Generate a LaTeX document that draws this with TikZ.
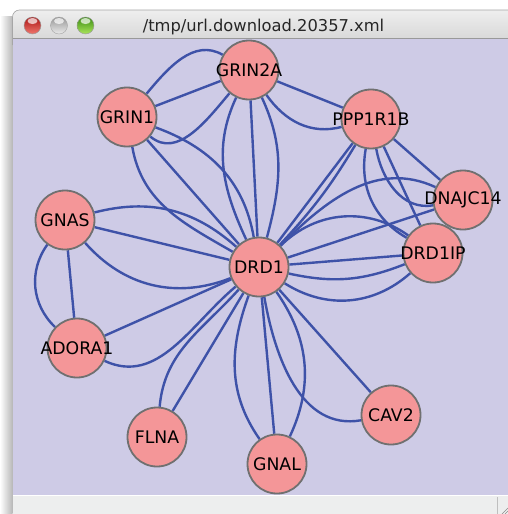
\documentclass[tikz,border=0pt]{standalone}
\usepackage{fontspec}
\setmainfont{DejaVu Sans}
\pgfdeclarelayer{bg}
\pgfdeclarelayer{edges}
\pgfsetlayers{bg,edges,main}
\definecolor{canvasc}{RGB}{206,203,230}
\definecolor{nodefillc}{RGB}{244,150,152}
\definecolor{nodeborderc}{RGB}{112,112,112}
\definecolor{edgec}{RGB}{62,82,168}
\definecolor{statusc}{RGB}{237,238,238}
\definecolor{titletop}{RGB}{238,238,238}
\definecolor{titlebot}{RGB}{212,212,212}
\definecolor{redtop}{RGB}{170,20,20}
\definecolor{redbot}{RGB}{240,120,110}
\definecolor{greytop}{RGB}{150,150,150}
\definecolor{greybot}{RGB}{235,235,235}
\definecolor{greentop}{RGB}{60,140,20}
\definecolor{greenbot}{RGB}{170,230,90}
\newcommand\zw[1]{\makebox[0pt]{#1}}
\tikzset{
  gene/.style={circle, minimum size=59pt, inner sep=0pt, fill=nodefillc,
    draw=nodeborderc, line width=1.8pt, text=black,
    font=\fontsize{17.3}{20}\selectfont},
  edge/.style={draw=edgec, line width=2.4pt}
}
\begin{document}
\begin{tikzpicture}[x=1pt,y=1pt]
\useasboundingbox (0,0) rectangle (508,-514);
\begin{pgfonlayer}{bg}
  \fill[white] (0,0) rectangle (508,-514);
  \shade[left color=white, right color=black!28] (0,-16) rectangle (12.5,-514);
  \shade[top color=titletop, bottom color=titlebot, rounded corners=7pt, draw=black!35, line width=0.6pt]
     (12.5,-45) -- (12.5,-10) -- (530,-10) -- (530,-45);
  \fill[canvasc] (13,-38) rectangle (508,-495);
  \draw[black!40, line width=0.6pt] (13,-38) -- (508,-38);
  \fill[statusc] (13,-495) rectangle (508,-514);
  \draw[white, line width=0.8pt] (13,-495.5) -- (508,-495.5);
  \draw[black!25, line width=0.6pt] (497,-497) -- (497,-514);
  \draw[black!45, line width=0.6pt] (502,-514) -- (508,-508) (505,-514) -- (508,-511);
  \shade[top color=redtop, bottom color=redbot, draw=black!40, line width=0.4pt] (32.5,-25.5) circle (8.5);
  \shade[top color=greytop, bottom color=greybot, draw=black!35, line width=0.4pt] (59,-25.5) circle (8.5);
  \shade[top color=greentop, bottom color=greenbot, draw=black!40, line width=0.4pt] (85.5,-25.5) circle (8.5);
  \fill[white, opacity=0.7] (32.5,-21) ellipse (5 and 3);
  \fill[white, opacity=0.7] (59,-21) ellipse (5 and 3);
  \fill[white, opacity=0.7] (85.5,-21) ellipse (5 and 3);
  \node[anchor=base, text=black!85, font=\fontsize{16.3}{18}\selectfont] (title) at (263.5,-31.5) {/tmp/url.download.20357.xml};
\end{pgfonlayer}

\node[gene] (GRIN2A) at (249,-70) {\zw{GRIN2A}};
\node[gene] (GRIN1) at (127,-117) {\zw{GRIN1}};
\node[gene] (PPP1R1B) at (371,-119) {\zw{PPP1R1B}};
\node[gene] (DNAJC14) at (463,-200) {\zw{DNAJC14}};
\node[gene] (DRD1IP) at (433,-253) {\zw{DRD1IP}};
\node[gene] (GNAS) at (65,-220) {\zw{GNAS}};
\node[gene] (DRD1) at (259,-267) {\zw{DRD1}};
\node[gene] (ADORA1) at (77,-348) {\zw{ADORA1}};
\node[gene] (FLNA) at (157,-437) {\zw{FLNA}};
\node[gene] (GNAL) at (277,-464) {\zw{GNAL}};
\node[gene] (CAV2) at (391,-415) {\zw{CAV2}};

\begin{pgfonlayer}{edges}
\draw[edge] (GRIN1) -- (GRIN2A);
\draw[edge] (GRIN1) to[out=50,in=150] (GRIN2A);
\draw[edge] (GRIN1) to[out=-40,in=230] (GRIN2A);
\draw[edge] (GRIN1) -- (DRD1);
\draw[edge] (GRIN1) to[out=-20,in=100] (DRD1);
\draw[edge] (GRIN1) to[out=-80,in=150] (DRD1);
\draw[edge] (GRIN2A) -- (DRD1);
\draw[edge] (GRIN2A) to[out=-115,in=115] (DRD1);
\draw[edge] (GRIN2A) to[out=-65,in=75] (DRD1);
\draw[edge] (GRIN2A) -- (PPP1R1B);
\draw[edge] (GRIN2A) to[out=-55,in=195] (PPP1R1B);
\draw[edge] (PPP1R1B) -- (DRD1);
\draw[edge] (PPP1R1B) to[bend left=6] (DRD1);
\draw[edge] (PPP1R1B) -- (DNAJC14);
\draw[edge] (PPP1R1B) to[out=-80,in=190] (DNAJC14);
\draw[edge] (PPP1R1B) -- (DRD1IP);
\draw[edge] (PPP1R1B) to[out=-100,in=150] (DRD1IP);
\draw[edge] (DNAJC14) -- (DRD1IP);
\draw[edge] (DRD1) to[out=45,in=155] (DNAJC14);
\draw[edge] (DRD1) -- (DNAJC14);
\draw[edge] (DRD1) -- (DRD1IP);
\draw[edge] (DRD1) to[bend left=40] (DRD1IP);
\draw[edge] (DRD1) to[bend right=17] (DRD1IP);
\draw[edge] (DRD1) to[bend right=37] (DRD1IP);
\draw[edge] (GNAS) -- (DRD1);
\draw[edge] (GNAS) to[bend left=28] (DRD1);
\draw[edge] (GNAS) to[bend right=35] (DRD1);
\draw[edge] (GNAS) -- (ADORA1);
\draw[edge] (GNAS) to[bend right=41] (ADORA1);
\draw[edge] (ADORA1) -- (DRD1);
\draw[edge] (ADORA1) to[out=-25,in=220] (DRD1);
\draw[edge] (DRD1) -- (FLNA);
\draw[edge] (DRD1) to[out=228,in=85] (FLNA);
\draw[edge] (DRD1) -- (GNAL);
\draw[edge] (DRD1) to[out=-55,in=65] (GNAL);
\draw[edge] (DRD1) to[out=-110,in=125] (GNAL);
\draw[edge] (DRD1) -- (CAV2);
\draw[edge] (DRD1) to[out=-80,in=190] (CAV2);
\end{pgfonlayer}
\end{tikzpicture}
\end{document}
